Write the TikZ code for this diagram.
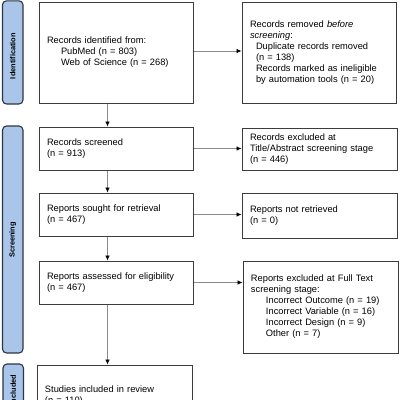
\documentclass[tikz,border=0pt]{standalone}
\usepackage{fontspec}
\setmainfont{Liberation Sans}
\usetikzlibrary{arrows.meta}
\definecolor{barfill}{HTML}{A9C5E9}
\definecolor{barline}{HTML}{2E3542}
\definecolor{boxline}{HTML}{3C3C3C}
\definecolor{arrline}{HTML}{8A8A8A}
\begin{document}
\begin{tikzpicture}[x=1pt,y=-1pt,
  box/.style={draw=boxline, line width=1pt, fill=white, inner xsep=8pt, inner ysep=0pt,
    align=left, font=\fontsize{9.3}{11}\selectfont},
  bar/.style={draw=barline, fill=barfill, line width=1.1pt, rounded corners=4pt},
  barlabel/.style={rotate=90, font=\bfseries\fontsize{7.4}{9}\selectfont},
  arr/.style={draw=arrline, line width=0.7pt, -{Latex[length=5pt,width=4.5pt,color=black]}}]
\useasboundingbox (0,0) rectangle (400,400);
\clip (0,0) rectangle (400,400);
% side bars
\draw[bar] (2.5,0.8) rectangle (23,104);
\node[barlabel] (idlab) at (12.7,56) {Identification};
\draw[bar] (2.5,126) rectangle (23,353);
\node[barlabel] (scrlab) at (12.7,240) {Screening};
\draw[bar] (3,364) rectangle (23.5,416);
\node[barlabel] (inclab) at (13.2,390) {Included};
% boxes
\node[box, text width=138pt, minimum height=101pt] (id) at (116,52.5)
  {Records identified from:\\
   \hspace*{14pt}PubMed (n = 803)\\
   \hspace*{14pt}Web of Science (n = 268)};
\node[box, text width=138.5pt, minimum height=101pt] (rem) at (319.25,52.5)
  {Records removed \textit{before}\\
   \textit{screening}:\\
   \hspace*{6pt}Duplicate records removed\\
   \hspace*{6pt}(n = 138)\\
   \hspace*{6pt}Records marked as ineligible\\
   \hspace*{6pt}by automation tools (n = 20)};
\node[box, text width=138pt, minimum height=43pt] (scr) at (116,148.5)
  {Records screened\\ (n = 913)};
\node[box, text width=139pt, minimum height=42pt] (exc1) at (319.5,149)
  {Records excluded at\\ Title/Abstract screening stage\\ (n = 446)};
\node[box, text width=138pt, minimum height=43pt] (sought) at (116,214.5)
  {Reports sought for retrieval\\ (n = 467)};
\node[box, text width=139pt, minimum height=45pt] (notret) at (319.5,215.5)
  {Reports not retrieved\\ (n = 0)};
\node[box, text width=138pt, minimum height=43pt] (assess) at (116,282.5)
  {Reports assessed for eligibility\\ (n = 467)};
\node[box, text width=139pt, minimum height=92pt] (exc2) at (320.5,307)
  {Reports excluded at Full Text\\
   screening stage:\\
   \hspace*{15pt}Incorrect Outcome (n = 19)\\
   \hspace*{15pt}Incorrect Variable (n = 16)\\
   \hspace*{15pt}Incorrect Design (n = 9)\\
   \hspace*{15pt}Other (n = 7)};
\node[box, text width=139pt, minimum height=62pt] (incl) at (114.5,396)
  {Studies included in review\\ (n = 110)};
% arrows
\coordinate (ax) at (107.5,0);
\draw[arr] (id.south -| ax) -- (scr.north -| ax);
\draw[arr] (scr.south -| ax) -- (sought.north -| ax);
\draw[arr] (sought.south -| ax) -- (assess.north -| ax);
\draw[arr] (assess.south -| ax) -- (incl.north -| ax);
\draw[arr] (id.east) ++(0,-1.5) coordinate (ide) -- (ide -| rem.west);
\draw[arr] (scr.east) -- (scr.east -| exc1.west);
\draw[arr] (sought.east) -- (sought.east -| notret.west);
\draw[arr] (assess.east) -- (assess.east -| exc2.west);
\end{tikzpicture}
\end{document}
